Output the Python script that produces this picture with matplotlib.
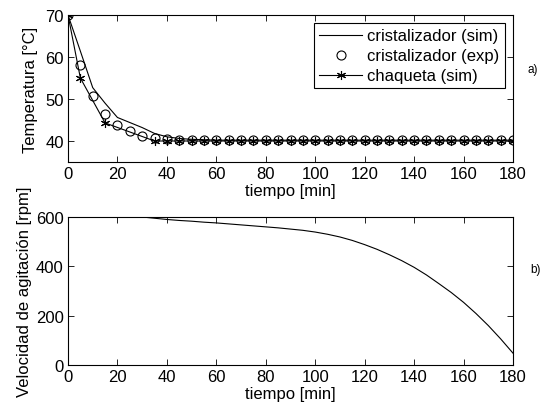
import numpy as np
import matplotlib
matplotlib.use("Agg")
import matplotlib.pyplot as plt

plt.rcParams['font.family'] = ['Liberation Sans', 'DejaVu Sans']
plt.rcParams['font.size'] = 12

# temperature data (panel a)
t_sim = [0, 5, 10, 15, 20, 25, 30, 35, 40, 45, 50, 55, 60, 70, 80, 90, 100, 110, 120, 130, 140, 150, 160, 170, 180]
T_cris_sim = [70, 61.4, 52.7, 49.0, 45.6, 44.4, 43.2, 41.8, 41.0, 40.6, 40.4, 40.3, 40.2, 40.2, 40.2, 40.2, 40.2, 40.2, 40.2, 40.2, 40.2, 40.2, 40.2, 40.2, 40.2]

t_exp = list(range(0, 181, 5))
T_cris_exp = [70, 58.0, 50.7, 46.5, 43.9, 42.4, 41.3, 40.8, 40.5, 40.3, 40.3, 40.3,
              40.2, 40.2, 40.2, 40.2, 40.2, 40.2, 40.2, 40.2, 40.2, 40.2, 40.2, 40.2,
              40.2, 40.2, 40.2, 40.2, 40.2, 40.2, 40.2, 40.2, 40.2, 40.2, 40.2, 40.2, 40.2]

t_chaq = [0, 5, 15] + list(range(35, 181, 5))
T_chaq = [70, 55.0, 44.3] + [40.0] * len(range(35, 181, 5))

# stirring speed (panel b)
t_vel = [0, 10, 20, 30, 35, 40, 45, 50, 55, 60, 65, 70, 75, 80, 85, 90, 95, 100, 105, 110, 115,
         120, 125, 130, 135, 140, 145, 150, 155, 160, 165, 170, 175, 180]
vel = [600, 600, 600, 600, 595, 590, 586, 583, 579, 576, 572, 568, 564, 560, 556, 551, 546, 539, 530,
       519, 505, 488, 469, 447, 423, 396, 365, 330, 294, 254, 209, 160, 106, 48]

fig = plt.figure(figsize=(5.49, 4.10), dpi=100)
ax1 = fig.add_axes([68/549, 1 - 163/410, 445/549, 147/410])
ax2 = fig.add_axes([68/549, 1 - 366/410, 445/549, 148/410])

lw = 0.8
ax1.plot(t_sim, T_cris_sim, color='black', lw=lw, label='cristalizador (sim)')
ax1.plot(t_exp, T_cris_exp, 'o', mfc='none', mec='black', ms=6.5, mew=0.8, label='cristalizador (exp)')
ax1.plot(t_chaq, T_chaq, '-', marker=(6, 2, 0), color='black', lw=lw, ms=6.5, mew=0.8, label='chaqueta (sim)')

ax1.set_xlim(0, 180)
ax1.set_ylim(35, 70)
ax1.set_yticks([40, 50, 60, 70])
ax1.set_xticks(range(0, 181, 20))
ax1.set_xlabel('tiempo [min]', labelpad=1)
ax1.set_ylabel('Temperatura [°C]', labelpad=5)
leg = ax1.legend(loc='upper right', fancybox=False, edgecolor='black', framealpha=1,
                 borderaxespad=0.5, handlelength=2.6, borderpad=0.3, labelspacing=0.3,
                 handletextpad=0.3)
leg.get_frame().set_linewidth(0.8)

ax2.plot(t_vel, vel, color='black', lw=lw)
ax2.set_xlim(0, 180)
ax2.set_ylim(0, 600)
ax2.set_yticks([0, 200, 400, 600])
ax2.set_xticks(range(0, 181, 20))
ax2.set_xlabel('tiempo [min]', labelpad=1)
ax2.set_ylabel('Velocidad de agitación [rpm]', labelpad=3)

for ax in (ax1, ax2):
    ax.tick_params(direction='in', top=True, right=True, length=4, width=0.6, pad=3)
    for s in ax.spines.values():
        s.set_linewidth(0.8)

fig.text(527/549, 1 - 70/410, 'a)', fontsize=8.5, va='center')
fig.text(530/549, 1 - 270/410, 'b)', fontsize=8.5, va='center')

fig.savefig('out.png', dpi=100)
